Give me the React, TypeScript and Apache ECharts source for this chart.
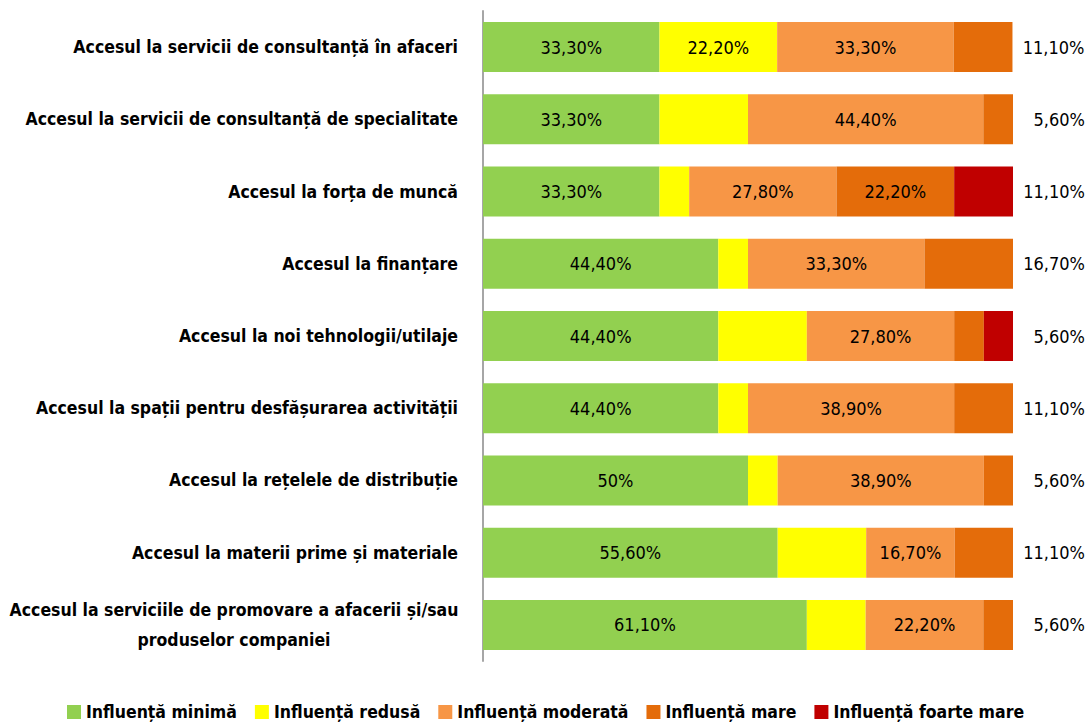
import React, { useEffect, useRef } from "react";
import * as echarts from "echarts";

const categories = [
  "Accesul la servicii de consultanță în afaceri",
  "Accesul la servicii de consultanță de specialitate",
  "Accesul la forța de muncă",
  "Accesul la finanțare",
  "Accesul la noi tehnologii/utilaje",
  "Accesul la spații pentru desfășurarea activității",
  "Accesul la rețelele de distribuție",
  "Accesul la materii prime și materiale",
  "Accesul la serviciile de promovare a afacerii și/sau\nproduselor companiei",
];

const seriesNames = [
  "Influență minimă",
  "Influență redusă",
  "Influență moderată",
  "Influență mare",
  "Influență foarte mare",
];

const minima = [33.3, 33.3, 33.3, 44.4, 44.4, 44.4, 50, 55.6, 61.1];
const redusa = [22.2, 16.7, 5.6, 5.6, 16.7, 5.6, 5.6, 16.7, 11.1];
const moderata = [33.3, 44.4, 27.8, 33.3, 27.8, 38.9, 38.9, 16.7, 22.2];
const mare = [11.1, 5.6, 22.2, 16.7, 5.6, 11.1, 5.6, 11.1, 5.6];
const foarteMare = [0, 0, 11.1, 0, 5.6, 0, 0, 0, 0];

// which inner labels are displayed (1 = shown)
const showMinima = [1, 1, 1, 1, 1, 1, 1, 1, 1];
const showRedusa = [1, 0, 0, 0, 0, 0, 0, 0, 0];
const showModerata = [1, 1, 1, 1, 1, 1, 1, 1, 1];
const showMare = [0, 0, 1, 0, 0, 0, 0, 0, 0];
const showFoarteMare = [0, 0, 0, 0, 0, 0, 0, 0, 0];

const colors = ["#92D050", "#FFFF00", "#F79646", "#E46C0A", "#C00000"];

const FONT = "'Liberation Sans Narrow', 'Arial Narrow', 'DejaVu Sans Condensed', sans-serif";

function fmt(v: number) {
  const s = v % 1 === 0 ? String(v) : v.toFixed(2).replace(".", ",");
  return s + "%";
}

export default function App() {
  const ref = useRef<HTMLDivElement>(null);
  useEffect(() => {
    if (!ref.current) return;
    const chart = echarts.init(ref.current, undefined, { renderer: "svg" });
    const allValues = [minima, redusa, moderata, mare, foarteMare];
    const allShow = [showMinima, showRedusa, showModerata, showMare, showFoarteMare];
    const lastIdx = categories.map((_, ci) => {
      let last = 0;
      allValues.forEach((arr, si) => {
        if (arr[ci] > 0) last = si;
      });
      return last;
    });

    const series = allValues.map((arr, si) => ({
      name: seriesNames[si],
      type: "bar",
      stack: "total",
      barWidth: 50,
      itemStyle: { color: colors[si] },
      data: arr.map((v, ci) => {
        if (lastIdx[ci] === si) {
          return {
            value: v,
            label: {
              show: true,
              position: "right",
              distance: 2,
              formatter: () => "{r|" + fmt(v) + "}",
              rich: {
                r: {
                  width: 70,
                  align: "right",
                  fontFamily: FONT,
                  fontSize: 18,
                  color: "#000",
                },
              },
            },
          };
        }
        return {
          value: v,
          label: {
            show: allShow[si][ci] === 1 && v > 0,
            position: "inside",
            formatter: () => fmt(v),
            fontFamily: FONT,
            fontSize: 18,
            color: "#000",
          },
        };
      }),
    }));

    chart.setOption({
      animation: false,
      textStyle: { fontFamily: FONT },
      grid: {
        left: 483,
        right: 76,
        top: 11,
        bottom: 61,
        containLabel: false,
        outerBoundsMode: "none",
      },
      legend: {
        top: 698,
        left: 62,
        itemWidth: 14,
        itemHeight: 14,
        itemGap: 18,
        icon: "rect",
        textStyle: { fontFamily: FONT, fontSize: 17.5, fontWeight: "bold", color: "#000" },
        data: seriesNames,
      },
      xAxis: {
        type: "value",
        min: 0,
        max: 100,
        show: false,
      },
      yAxis: {
        type: "category",
        inverse: true,
        data: categories,
        axisLine: { show: true, lineStyle: { color: "#A6A6A6", width: 2 } },
        axisTick: { show: false },
        axisLabel: {
          margin: 25,
          fontFamily: FONT,
          fontSize: 17.5,
          fontWeight: "bold",
          color: "#000",
          lineHeight: 30,
          formatter: (val: string) =>
            val.indexOf("\n") >= 0 ? "{c|" + val + "}" : val,
          rich: {
            c: {
              width: 448,
              align: "center",
              fontFamily: FONT,
              fontSize: 17.5,
              fontWeight: "bold",
              color: "#000",
              lineHeight: 30,
            },
          },
        },
      },
      series,
    });
    return () => chart.dispose();
  }, []);
  return (
    <div
      ref={ref}
      style={{ position: "absolute", left: 0, top: 0, width: 1089, height: 722 }}
    />
  );
}
